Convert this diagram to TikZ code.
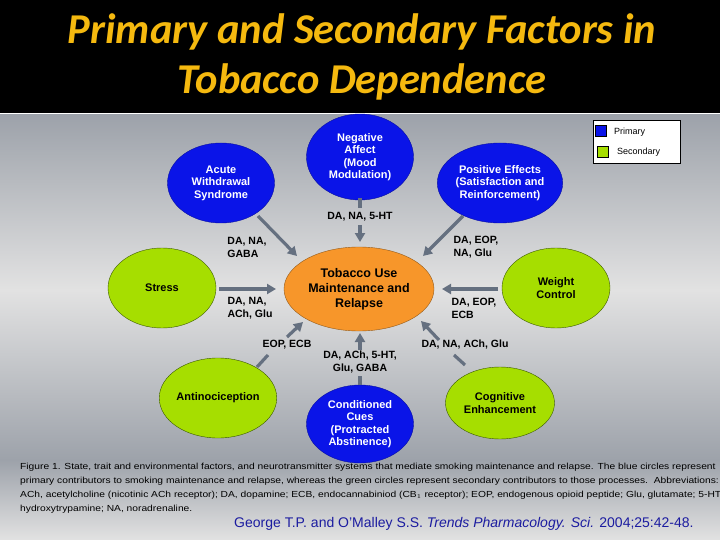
\documentclass[tikz,border=0pt]{standalone}
\usepackage{fontspec}
\usepackage{graphicx}
\setmainfont{Liberation Sans}
\newfontfamily\titlefont{Carlito}
\usetikzlibrary{arrows.meta,shapes.geometric}
\definecolor{tgold}{HTML}{F5B90F}
\definecolor{pblue}{HTML}{0A14E8}
\definecolor{sgreen}{HTML}{A6DE00}
\definecolor{gline}{HTML}{3C5A00}
\definecolor{orng}{HTML}{F7962A}
\definecolor{arr}{HTML}{657080}
\definecolor{gtop}{HTML}{9DA2AA}
\definecolor{gmid}{HTML}{E2E2E2}
\definecolor{cite}{HTML}{1C1CA0}
\newcommand{\capline}[1]{\scalebox{1.165}[1]{#1}}
\tikzset{
 prim/.style={ellipse,fill=pblue,draw=pblue!70!black,text=white,font=\bfseries\fontsize{11}{12.5}\selectfont,align=center,inner sep=0pt},
 sec/.style={ellipse,fill=sgreen,draw=gline,text=black,font=\bfseries\fontsize{11}{12.5}\selectfont,align=center,inner sep=0pt},
 lab/.style={font=\bfseries\fontsize{10.5}{13}\selectfont,align=left,inner sep=1pt},
 conn/.style={draw=arr,line width=3.2pt},
 ar/.style={conn,-{Triangle[length=9pt,width=10pt]}},
 capt/.style={anchor=base west,font=\fontsize{8.8}{10}\selectfont,inner sep=0pt}
}
\begin{document}
\begin{tikzpicture}[x=1pt,y=-1pt]
\useasboundingbox (0,0) rectangle (720,540);
\fill[black] (0,0) rectangle (720,113);
\fill[white] (0,113) rectangle (720,115);
\shade[top color=gtop,bottom color=gmid] (0,115) rectangle (720,290);
\shade[top color=gmid,bottom color=gtop] (0,290) rectangle (720,460);
\shade[top color=gtop,bottom color=gmid] (0,460) rectangle (720,540);
\node[font=\titlefont\bfseries\itshape\fontsize{42.5}{46}\selectfont,text=tgold] (t1) at (362,32) {Primary and Secondary Factors in};
\node[font=\titlefont\bfseries\itshape\fontsize{42.5}{46}\selectfont,text=tgold] (t2) at (362,82) {Tobacco Dependence};
% nodes
\node[prim,minimum width=107pt,minimum height=86pt] (neg) at (360,157) {Negative\\Affect\\(Mood\\Modulation)};
\node[prim,minimum width=107pt,minimum height=80pt] (acu) at (221,183) {Acute\\Withdrawal\\Syndrome};
\node[prim,minimum width=107pt,minimum height=80pt] (pos) at (500,183) {Positive Effects\\(Satisfaction and\\Reinforcement)};
\node[sec,minimum width=108pt,minimum height=80pt] (str) at (162,288) {Stress};
\node[ellipse,fill=orng,draw=orng!60!black,minimum width=150pt,minimum height=84pt,inner sep=0pt,align=center,font=\bfseries\fontsize{12.5}{15}\selectfont] (tob) at (359,289) {Tobacco Use\\Maintenance and\\Relapse};
\node[sec,minimum width=108pt,minimum height=80pt] (wei) at (556,288) {Weight\\Control};
\node[sec,minimum width=108pt,minimum height=80pt] (ant) at (218,398) {Antinociception};
\node[prim,minimum width=107pt,minimum height=78pt] (cond) at (360,424) {Conditioned\\Cues\\(Protracted\\Abstinence)};
\node[sec,minimum width=109pt,minimum height=72pt] (cog) at (500,403) {Cognitive\\Enhancement};
% labels
\node[lab] (l1) at (360,217) {DA, NA, 5-HT};
\node[lab] (l2) at (247,247) {DA, NA,\\GABA};
\node[lab] (l3) at (476,247) {DA, EOP,\\NA, Glu};
\node[lab] (l4) at (250,308) {DA, NA,\\ACh, Glu};
\node[lab] (l5) at (474,308) {DA, EOP,\\ECB};
\node[lab] (l6) at (287,345) {EOP, ECB};
\node[lab,align=center] (l7) at (360,362) {DA, ACh, 5-HT,\\Glu, GABA};
\node[lab] (l8) at (465,345) {DA, NA, ACh, Glu};
% connectors
\coordinate (a1s) at (258,216); \coordinate (a1e) at (297,256);
\coordinate (a2s) at (463,216); \coordinate (a2e) at (423,256);
\coordinate (a3s) at (219,289); \coordinate (a3e) at (276,289);
\coordinate (a4s) at (498,289); \coordinate (a4e) at (442,289);
\coordinate (a5a) at (257,367); \coordinate (a5b) at (268,355);
\coordinate (a5c) at (287,337); \coordinate (a5d) at (303,322);
\coordinate (a6a) at (465,365); \coordinate (a6b) at (454,355);
\coordinate (a6c) at (439,340); \coordinate (a6d) at (421,321);
\coordinate (a7a) at (360,198); \coordinate (a7b) at (360,208);
\coordinate (a7c) at (360,225); \coordinate (a7d) at (360,242);
\coordinate (a8a) at (360,385); \coordinate (a8b) at (360,376);
\coordinate (a8c) at (360,350); \coordinate (a8d) at (360,333);
\draw[ar] (a1s) -- (a1e);
\draw[ar] (a2s) -- (a2e);
\draw[ar] (a3s) -- (a3e);
\draw[ar] (a4s) -- (a4e);
\draw[conn] (a5a) -- (a5b);
\draw[ar] (a5c) -- (a5d);
\draw[conn] (a6a) -- (a6b);
\draw[ar] (a6c) -- (a6d);
\draw[conn] (a7a) -- (a7b);
\draw[ar] (a7c) -- (a7d);
\draw[conn] (a8a) -- (a8b);
\draw[ar] (a8c) -- (a8d);
% legend
\node[draw=black,fill=white,minimum width=87pt,minimum height=43pt,inner sep=0pt] (leg) at (637,142) {};
\node[fill=pblue,draw=black,minimum size=11pt,inner sep=0pt] (lb) at (601,131) {};
\node[fill=sgreen,draw=black,minimum size=11pt,inner sep=0pt] (lg) at (603,152) {};
\node[anchor=west,font=\fontsize{9}{10}\selectfont,inner sep=0pt] (lbt) at (614,132) {Primary};
\node[anchor=west,font=\fontsize{9}{10}\selectfont,inner sep=0pt] (lgt) at (617,152) {Secondary};
% caption
\node[capt] (c1) at (20,469) {\capline{Figure 1. State, trait and environmental factors, and neurotransmitter systems that mediate smoking maintenance and relapse. The blue circles represent}};
\node[capt] (c2) at (20,483) {\capline{primary contributors to smoking maintenance and relapse, whereas the green circles represent secondary contributors to those processes.\ \ Abbreviations:}};
\node[capt] (c3) at (20,497) {\capline{ACh, acetylcholine (nicotinic ACh receptor); DA, dopamine; ECB, endocannabiniod (CB$_1$ receptor); EOP, endogenous opioid peptide; Glu, glutamate; 5-HT, 5-}};
\node[capt] (c4) at (20,511) {\capline{hydroxytrypamine; NA, noradrenaline.}};
\node[anchor=base west,inner sep=0pt,text=cite,font=\fontsize{14}{16}\selectfont] (cit) at (234,527) {George T.P. and O'Malley S.S. \textit{Trends Pharmacology. Sci.} 2004;25:42-48.};
\end{tikzpicture}
\end{document}
